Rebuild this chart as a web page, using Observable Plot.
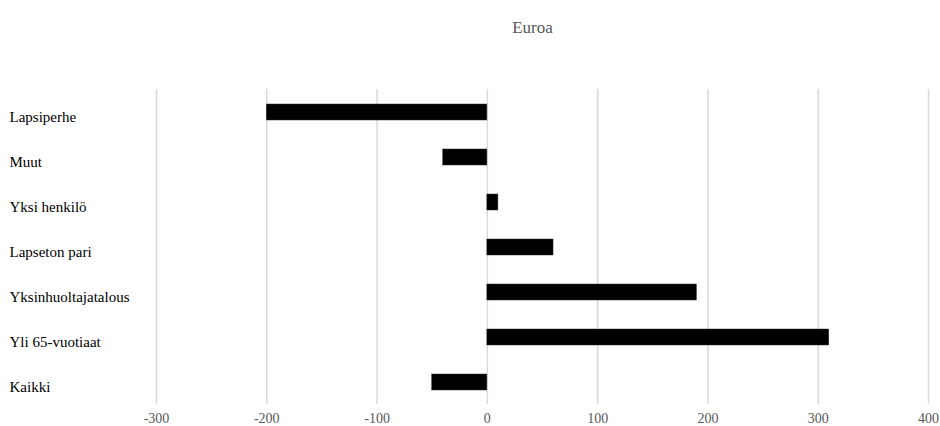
<!DOCTYPE html>
<html>
<head>
<meta charset="utf-8">
<script src="https://cdn.jsdelivr.net/npm/d3@7"></script>
<script src="https://cdn.jsdelivr.net/npm/@observablehq/plot@0.6"></script>
<style>
  html, body { margin: 0; padding: 0; background: #fff; }
</style>
</head>
<body>
<div id="chart"></div>
<script>
const title = "Euroa";
const categories = ["Lapsiperhe", "Muut", "Yksi henkilö", "Lapseton pari", "Yksinhuoltajatalous", "Yli 65-vuotiaat", "Kaikki"];
const values = [-200, -40, 10, 60, 190, 310, -50];
const xTicks = [-300, -200, -100, 0, 100, 200, 300, 400];

const data = categories.map((c, i) => ({category: c, value: values[i]}));

const chart = Plot.plot({
  width: 940,
  height: 426,
  marginTop: 89,
  marginBottom: 22,
  marginLeft: 156,
  marginRight: 12,
  style: {fontFamily: "Liberation Serif", background: "#fff", overflow: "visible"},
  x: {domain: [xTicks[0], xTicks[xTicks.length - 1]]},
  y: {domain: categories, paddingInner: 0.655, paddingOuter: 0.3275, axis: null},
  marks: [
    Plot.ruleX(xTicks, {stroke: "#d9d9d9", strokeWidth: 1.5}),
    Plot.barX(data, {x: "value", y: "category", fill: "#000", stroke: "#333", strokeWidth: 0.5}),
    Plot.axisX({ticks: xTicks, tickSize: 0, tickPadding: 9, fontSize: 14, color: "#595959", label: null, tickFormat: d => String(d)}),
    Plot.text(categories, {y: d => d, frameAnchor: "left", textAnchor: "start", dx: -147, dy: 5, fontSize: 15, fill: "#000"}),
    Plot.text([title], {frameAnchor: "top", dx: -10, dy: -69, fontSize: 17, fill: "#595959"})
  ]
});
document.getElementById("chart").appendChild(chart);
</script>
</body>
</html>
